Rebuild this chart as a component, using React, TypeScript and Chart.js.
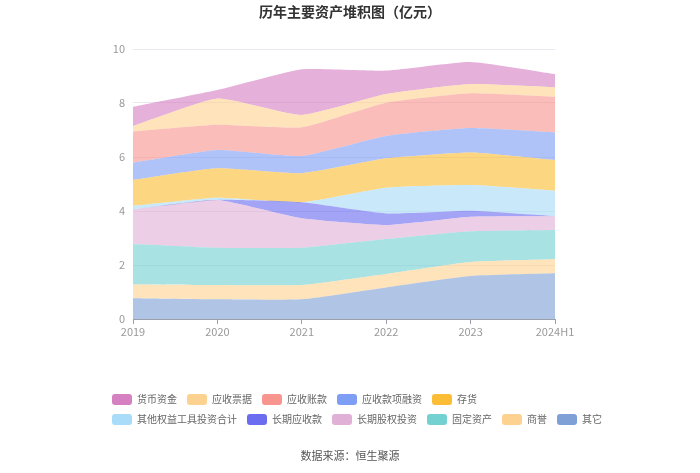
import React, { useEffect, useRef } from "react";
import { Chart, registerables } from "chart.js";

Chart.register(...registerables);

const categories = ["2019", "2020", "2021", "2022", "2023", "2024H1"];

// stacked bottom-up
const seriesNames = [
  "其它",
  "商誉",
  "固定资产",
  "长期股权投资",
  "长期应收款",
  "其他权益工具投资合计",
  "存货",
  "应收款项融资",
  "应收账款",
  "应收票据",
  "货币资金",
];

const qita = [0.77, 0.73, 0.73, 1.17, 1.59, 1.69];
const shangyu = [0.51, 0.53, 0.53, 0.5, 0.52, 0.52];
const gudingzichan = [1.5, 1.38, 1.38, 1.29, 1.14, 1.09];
const changqiguquan = [1.28, 1.77, 1.09, 0.52, 0.54, 0.51];
const changqiyingshou = [0, 0, 0.59, 0.43, 0.22, 0];
const qitaquanyi = [0.13, 0.08, 0, 0.95, 0.95, 0.94];
const cunhuo = [0.96, 1.09, 1.08, 1.09, 1.21, 1.14];
const yingshoukuanxiangrongzi = [0.64, 0.68, 0.64, 0.83, 0.9, 1.02];
const yingshouzhangkuan = [1.15, 0.93, 1.06, 1.23, 1.29, 1.32];
const yingshoupiaoju = [0.21, 0.98, 0.46, 0.32, 0.34, 0.35];
const huobizijin = [0.71, 0.31, 1.69, 0.87, 0.82, 0.49];

const seriesValues = [
  qita,
  shangyu,
  gudingzichan,
  changqiguquan,
  changqiyingshou,
  qitaquanyi,
  cunhuo,
  yingshoukuanxiangrongzi,
  yingshouzhangkuan,
  yingshoupiaoju,
  huobizijin,
];

const seriesColors = [
  "#7f9fd7",
  "#fdd291",
  "#73d1d2",
  "#e0b0d6",
  "#6b6cf0",
  "#a8dcf8",
  "#fcbd36",
  "#7e9ef5",
  "#f8958e",
  "#fdd291",
  "#d580c1",
];

const legendOrder = [
  "货币资金",
  "应收票据",
  "应收账款",
  "应收款项融资",
  "存货",
  "其他权益工具投资合计",
  "长期应收款",
  "长期股权投资",
  "固定资产",
  "商誉",
  "其它",
];

const yTicks = [0, 2, 4, 6, 8, 10];

const FONT = '"Noto Sans CJK SC", "Noto Sans", sans-serif';

function hexToRgba(hex: string, a: number) {
  const r = parseInt(hex.slice(1, 3), 16);
  const g = parseInt(hex.slice(3, 5), 16);
  const b = parseInt(hex.slice(5, 7), 16);
  return `rgba(${r},${g},${b},${a})`;
}

export default function App() {
  const ref = useRef<HTMLCanvasElement | null>(null);

  useEffect(() => {
    if (!ref.current) return;
    const chart = new Chart(ref.current, {
      type: "line",
      data: {
        labels: categories,
        datasets: seriesNames.map((name, i) => ({
          label: name,
          data: seriesValues[i],
          backgroundColor: hexToRgba(seriesColors[i], 0.62),
          borderWidth: 0,
          pointRadius: 0,
          fill: i === 0 ? "origin" : "-1",
          tension: 0.15,
        })),
      },
      options: {
        responsive: false,
        animation: false,
        layout: { padding: { left: 103, right: 145, top: 49, bottom: 124 } },
        plugins: {
          legend: { display: false },
          tooltip: { enabled: false },
          title: { display: false },
        },
        scales: {
          x: {
            offset: false,
            grid: {
              drawOnChartArea: false,
              drawTicks: true,
              tickLength: 5,
              color: "#9aa0aa",
            },
            border: { display: true, color: "#9aa0aa" },
            ticks: {
              color: "#999",
              font: { family: FONT, size: 11 },
              padding: 1,
              maxRotation: 0,
              autoSkip: false,
            },
            afterFit: (s: any) => {
              s.height = 30;
            },
          },
          y: {
            stacked: true,
            min: 0,
            max: 10,
            afterBuildTicks: (s: any) => {
              s.ticks = yTicks.map((v) => ({ value: v }));
            },
            grid: { color: "#e8e8ee", drawTicks: false },
            border: { display: false },
            ticks: {
              color: "#999",
              font: { family: FONT, size: 11 },
              padding: 8,
            },
            afterFit: (s: any) => {
              s.width = 30;
            },
          },
        },
      },
    });
    return () => chart.destroy();
  }, []);

  const legendRows = [legendOrder.slice(0, 5), legendOrder.slice(5)];

  return (
    <div
      style={{
        position: "absolute",
        left: 0,
        top: 0,
        width: 700,
        height: 473,
        background: "#fff",
        fontFamily: FONT,
      }}
    >
      <canvas ref={ref} width={700} height={473} style={{ position: "absolute", left: 0, top: 0 }} />
      <div
        style={{
          position: "absolute",
          left: 0,
          width: 700,
          top: 1,
          textAlign: "center",
          fontSize: 14,
          fontWeight: "bold",
          color: "#333",
          lineHeight: "20px",
        }}
      >
        历年主要资产堆积图（亿元）
      </div>
      <div style={{ position: "absolute", left: 112, top: 389 }}>
        {legendRows.map((row, ri) => (
          <div key={ri} style={{ display: "flex", alignItems: "center", height: 20 }}>
            {row.map((name) => {
              const idx = seriesNames.indexOf(name);
              return (
                <div key={name} style={{ display: "flex", alignItems: "center", marginRight: 10 }}>
                  <div
                    style={{
                      width: 20,
                      height: 11,
                      borderRadius: 3,
                      background: seriesColors[idx],
                      marginRight: 5,
                    }}
                  />
                  <span style={{ fontSize: 10, color: "#666", lineHeight: "14px" }}>{name}</span>
                </div>
              );
            })}
          </div>
        ))}
      </div>
      <div
        style={{
          position: "absolute",
          left: 0,
          width: 700,
          top: 447,
          textAlign: "center",
          fontSize: 11,
          color: "#555",
          lineHeight: "16px",
        }}
      >
        数据来源：恒生聚源
      </div>
    </div>
  );
}
